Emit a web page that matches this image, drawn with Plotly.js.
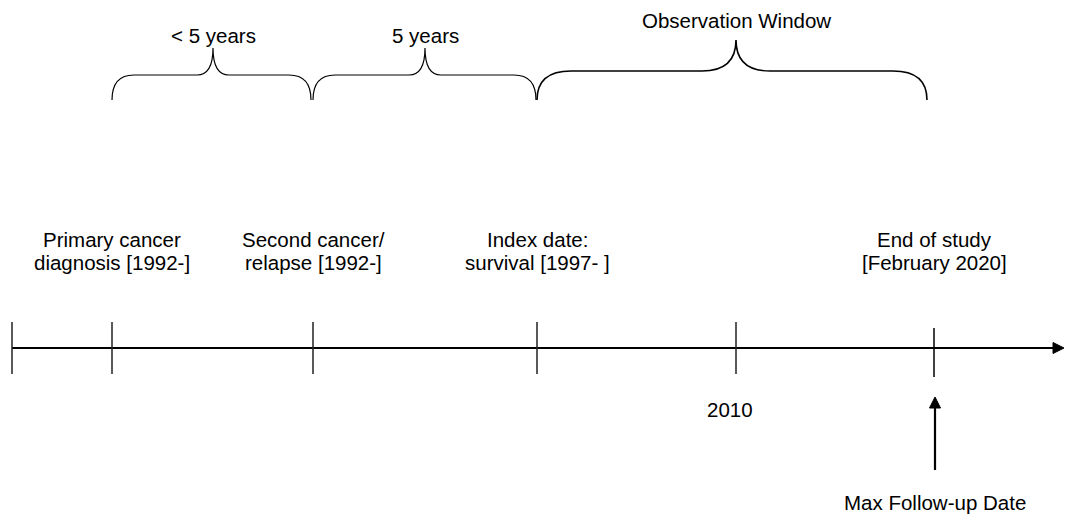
<!DOCTYPE html>
<html>
<head>
<meta charset="utf-8">
<script src="https://cdn.plot.ly/plotly-3.0.1.min.js"></script>
<style>
html,body{margin:0;padding:0;background:#fff;}
#chart{width:1065px;height:516px;}
</style>
</head>
<body>
<div id="chart"></div>
<script>
// Timeline events (axis units along the timeline)
const eventX = [12, 112, 313, 537, 736, 934];
const eventLabelLine1 = ["", "Primary cancer", "Second cancer/", "Index date:", "", "End of study"];
const eventLabelLine2 = ["", "diagnosis [1992-]", "relapse [1992-]", "survival [1997- ]", "", "[February 2020]"];
const axisTickLabels = ["", "", "", "", "2010", ""];
// Brace spans (start, end, mid) and labels
const braceStart = [112, 313, 537];
const braceEnd = [311, 536, 927];
const braceMid = [213, 425, 736];
const braceLabels = ["< 5 years", "5 years", "Observation Window"];
const markerLabel = "Max Follow-up Date";
const markerX = 935;
const timelineEnd = 1064;

const INK = "#000000";
const FONT = {family: "Liberation Sans, Arial, sans-serif", size: 20.5, color: "#000"};

const shapes = [];
const annotations = [];

// main line
const lineY = 348;
shapes.push({type: "line", xref: "x", yref: "y", x0: eventX[0], x1: timelineEnd - 9, y0: lineY, y1: lineY, line: {color: INK, width: 2}});
shapes.push({type: "path", xref: "x", yref: "y",
  path: `M ${timelineEnd - 11},${lineY - 5.5} L ${timelineEnd},${lineY} L ${timelineEnd - 11},${lineY + 5.5} Z`,
  fillcolor: INK, line: {color: INK, width: 1}});

// ticks
eventX.forEach((x, i) => {
  const last = i === eventX.length - 1;
  shapes.push({type: "line", xref: "x", yref: "y", x0: x, x1: x,
    y0: last ? 328 : 322, y1: last ? 377 : 374, line: {color: last ? INK : "#222", width: 1.5}});
  if (eventLabelLine1[i]) {
    annotations.push({x: x, y: 239, xref: "x", yref: "y", text: eventLabelLine1[i], showarrow: false,
      font: FONT, xanchor: "center", yanchor: "middle"});
    annotations.push({x: x, y: 262, xref: "x", yref: "y", text: eventLabelLine2[i], showarrow: false,
      font: FONT, xanchor: "center", yanchor: "middle"});
  }
  if (axisTickLabels[i]) {
    annotations.push({x: x, y: 409, xref: "x", yref: "y", text: axisTickLabels[i], showarrow: false,
      font: FONT, xanchor: "center", yanchor: "middle", xshift: -6});
  }
});

// braces
braceStart.forEach((x0, i) => {
  const x1 = braceEnd[i], xm = braceMid[i];
  const big = (x1 - x0) > 300;
  const yb = 100, yh = big ? 71 : 75, yt = big ? 40 : 48;
  const r = big ? 34 : 22;
  const rm = big ? 34 : 16;
  const p = `M ${x0},${yb} Q ${x0},${yh} ${x0 + r},${yh} L ${xm - rm},${yh} Q ${xm},${yh} ${xm},${yt} ` +
            `M ${xm},${yt} Q ${xm},${yh} ${xm + rm},${yh} L ${x1 - r},${yh} Q ${x1},${yh} ${x1},${yb}`;
  shapes.push({type: "path", xref: "x", yref: "y", path: p, line: {color: INK, width: big ? 1.6 : 1.2}});
  annotations.push({x: xm, y: big ? 20 : 35, xref: "x", yref: "y", text: braceLabels[i], showarrow: false,
    font: FONT, xanchor: "center", yanchor: "middle"});
});

// Max follow-up arrow
shapes.push({type: "line", xref: "x", yref: "y", x0: markerX, x1: markerX, y0: 470, y1: 406, line: {color: INK, width: 2.2}});
shapes.push({type: "path", xref: "x", yref: "y",
  path: `M ${markerX - 5.5},${408} L ${markerX},${397} L ${markerX + 5.5},${408} Z`,
  fillcolor: INK, line: {color: INK, width: 1}});
annotations.push({x: markerX, y: 502, xref: "x", yref: "y", text: markerLabel, showarrow: false,
  font: FONT, xanchor: "center", yanchor: "middle"});

const layout = {
  width: 1065, height: 516,
  margin: {l: 0, r: 0, t: 0, b: 0},
  paper_bgcolor: "#fff", plot_bgcolor: "#fff",
  xaxis: {range: [0, 1065], visible: false, fixedrange: true},
  yaxis: {range: [516, 0], visible: false, fixedrange: true},
  showlegend: false,
  shapes: shapes,
  annotations: annotations
};

Plotly.newPlot("chart", [{x: eventX, y: eventX.map(() => lineY), mode: "markers", marker: {opacity: 0}, hoverinfo: "skip"}], layout, {staticPlot: true, displayModeBar: false});
</script>
</body>
</html>
